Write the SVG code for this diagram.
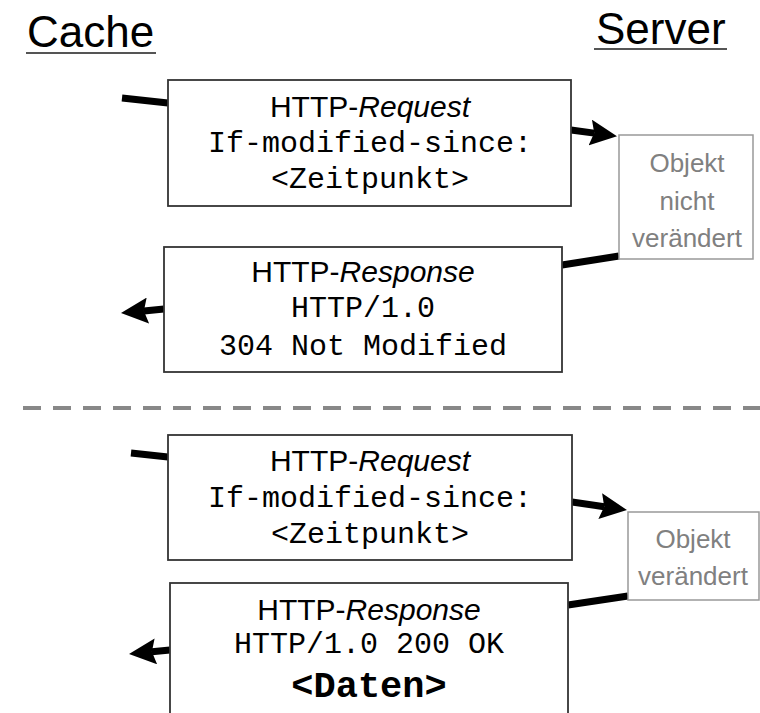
<svg xmlns="http://www.w3.org/2000/svg" width="760" height="713" viewBox="0 0 760 713">
<style>
.title{font-family:"Liberation Sans",Arial,sans-serif;font-size:44px;fill:#000}
.uline{stroke:#555;stroke-width:2}
.box{fill:#fff;stroke:#333;stroke-width:1.8}
.sbox{fill:#fff;stroke:#999;stroke-width:1.5}
.hdr{font-family:"Liberation Sans",Arial,sans-serif;font-size:30px;fill:#000;text-anchor:middle}
.mono{font-family:"Liberation Mono","Courier New",monospace;font-size:30px;fill:#000;text-anchor:middle}
.big{font-family:"Liberation Mono","Courier New",monospace;font-size:37px;font-weight:bold;fill:#000;text-anchor:middle}
.stxt{font-family:"Liberation Sans",Arial,sans-serif;font-size:26px;fill:#808080;text-anchor:middle}
.conn{stroke:#000;stroke-width:7;fill:none}
.dash{stroke:#888;stroke-width:4;stroke-dasharray:18 12}
</style>
<defs>
<marker id="ah" markerUnits="userSpaceOnUse" markerWidth="27" markerHeight="26" viewBox="0 0 27 26" refX="4" refY="13" orient="auto">
<path d="M0,0 L27,13 L0,26 L4,13 z" fill="#000"/>
</marker>
</defs>

<g id="title-cache">
<text class="title" x="27" y="47">Cache</text>
<line class="uline" x1="26" y1="53" x2="156" y2="53"/>
</g>
<g id="title-server">
<text class="title" x="596" y="44">Server</text>
<line class="uline" x1="594" y1="49" x2="727" y2="49"/>
</g>

<line id="separator" class="dash" x1="23" y1="408" x2="760" y2="408"/>

<g id="connectors">
<line class="conn" x1="122" y1="98" x2="168" y2="103"/>
<line class="conn" x1="571" y1="130" x2="594.2" y2="133.1" marker-end="url(#ah)"/>
<line class="conn" x1="562" y1="265" x2="619" y2="256"/>
<line class="conn" x1="164" y1="309" x2="143.9" y2="310.9" marker-end="url(#ah)"/>
<line class="conn" x1="131" y1="453" x2="168" y2="457"/>
<line class="conn" x1="572" y1="502" x2="604.2" y2="506.7" marker-end="url(#ah)"/>
<line class="conn" x1="568" y1="605" x2="628" y2="596"/>
<line class="conn" x1="170" y1="650" x2="151.9" y2="651.8" marker-end="url(#ah)"/>
</g>

<g id="request1">
<rect class="box" x="168" y="80" width="403" height="126"/>
<text class="hdr" x="370" y="117">HTTP-<tspan font-style="italic">Request</tspan></text>
<text class="mono" x="370" y="152">If-modified-since:</text>
<text class="mono" x="370" y="188">&lt;Zeitpunkt&gt;</text>
</g>

<g id="server1">
<rect class="sbox" x="619" y="135" width="134" height="124"/>
<text class="stxt" x="687" y="172">Objekt</text>
<text class="stxt" x="687" y="210">nicht</text>
<text class="stxt" x="687" y="247">verändert</text>
</g>

<g id="response1">
<rect class="box" x="164" y="247" width="398" height="125"/>
<text class="hdr" x="363" y="282">HTTP-<tspan font-style="italic">Response</tspan></text>
<text class="mono" x="363" y="317">HTTP/1.0</text>
<text class="mono" x="363" y="355">304 Not Modified</text>
</g>

<g id="request2">
<rect class="box" x="168" y="435" width="404" height="125"/>
<text class="hdr" x="370" y="471">HTTP-<tspan font-style="italic">Request</tspan></text>
<text class="mono" x="370" y="507">If-modified-since:</text>
<text class="mono" x="370" y="543">&lt;Zeitpunkt&gt;</text>
</g>

<g id="server2">
<rect class="sbox" x="628" y="512" width="131" height="88"/>
<text class="stxt" x="693" y="548">Objekt</text>
<text class="stxt" x="693" y="585">verändert</text>
</g>

<g id="response2">
<rect class="box" x="170" y="583" width="398" height="140"/>
<text class="hdr" x="369" y="620">HTTP-<tspan font-style="italic">Response</tspan></text>
<text class="mono" x="369" y="653">HTTP/1.0 200 OK</text>
<text class="big" x="369" y="697">&lt;Daten&gt;</text>
</g>
</svg>
